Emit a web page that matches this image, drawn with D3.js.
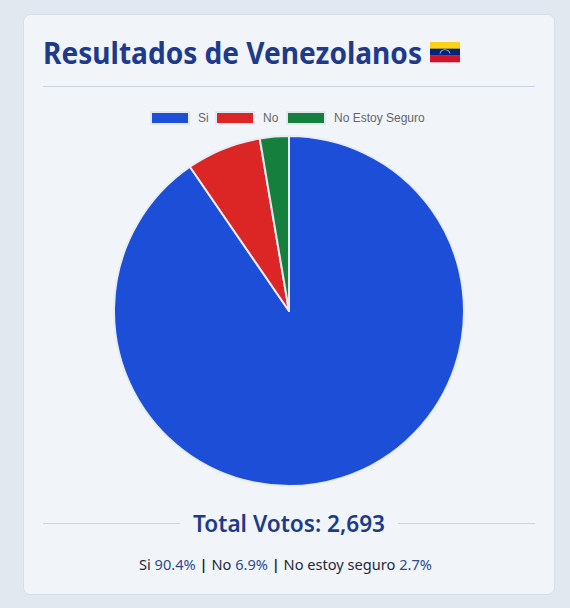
<!DOCTYPE html>
<html>
<head>
<meta charset="utf-8">
<script src="https://cdn.jsdelivr.net/npm/d3@7"></script>
<style>
  html, body { margin: 0; padding: 0; background: #e2e8f0; }
  svg { display: block; }
</style>
</head>
<body>
<svg id="chart"></svg>
<script>
// datos de la encuesta
const labels = ['Si', 'No', 'No Estoy Seguro'];
const summaryLabels = ['Si', 'No', 'No estoy seguro'];
const votes = [2435, 186, 72];
const colors = ['#1d4ed8', '#dc2626', '#15803d'];

const width = 570, height = 608;
const total = d3.sum(votes);

const svg = d3.select('#chart').attr('width', width).attr('height', height);

// tarjeta
svg.append('rect')
  .attr('x', 23.5).attr('y', 14.5).attr('width', 531).attr('height', 580)
  .attr('rx', 7).attr('fill', '#f1f5f9').attr('stroke', '#d5dde8');

// titulo
svg.append('text')
  .attr('x', 43).attr('y', 64)
  .attr('font-family', '"Noto Sans", sans-serif')
  .attr('font-weight', 700).attr('font-size', 31)
  .attr('textLength', 379).attr('lengthAdjust', 'spacingAndGlyphs')
  .attr('fill', '#1e3a8a')
  .text('Resultados de Venezolanos');

// bandera
const fx = 430, fy = 42, fw = 30, fh = 20;
const flag = svg.append('g').attr('transform', `translate(${fx},${fy})`);
['#fcd116', '#00247d', '#cf142b'].forEach((c, i) => {
  flag.append('rect').attr('x', 0).attr('y', i * fh / 3).attr('width', fw).attr('height', fh / 3 + 0.3).attr('fill', c);
});
flag.append('path')
  .attr('d', d3.arc()({ innerRadius: 5, outerRadius: 5.6, startAngle: -Math.PI / 2.4, endAngle: Math.PI / 2.4 }))
  .attr('transform', `translate(${fw / 2},${fh / 2 + 3})`)
  .attr('fill', '#fff');

svg.append('line')
  .attr('x1', 43).attr('x2', 535).attr('y1', 86.5).attr('y2', 86.5)
  .attr('stroke', '#cbd5e1');

// leyenda
const legendX = [151, 216, 287];
const legend = svg.selectAll('g.leg').data(labels).enter().append('g')
  .attr('class', 'leg')
  .attr('transform', (d, i) => `translate(${legendX[i]},112)`);
legend.append('rect')
  .attr('width', 38).attr('height', 12)
  .attr('fill', (d, i) => colors[i])
  .attr('stroke', '#e2e8f0').attr('stroke-width', 2);
legend.append('text')
  .attr('x', 47).attr('y', 10)
  .attr('font-family', 'Arial, "Liberation Sans", sans-serif')
  .attr('font-size', 12).attr('fill', '#666')
  .text(d => d);

// pastel
const cx = 289, cy = 311, radius = 175;
const pie = d3.pie().sort(null).value(d => d);
const arc = d3.arc().innerRadius(0).outerRadius(radius);

svg.append('g')
  .attr('transform', `translate(${cx},${cy})`)
  .selectAll('path')
  .data(pie(votes))
  .enter().append('path')
  .attr('d', arc)
  .attr('fill', (d, i) => colors[i])
  .attr('stroke', '#e8edf4')
  .attr('stroke-width', 2)
  .attr('stroke-linejoin', 'round');

// total
const totalText = svg.append('text')
  .attr('x', cx).attr('y', 532)
  .attr('text-anchor', 'middle')
  .attr('font-family', '"Noto Sans", sans-serif')
  .attr('font-weight', 600).attr('font-size', 23)
  .attr('textLength', 192).attr('lengthAdjust', 'spacingAndGlyphs')
  .attr('fill', '#1e3a8a')
  .text('Total Votos: ' + d3.format(',')(total));

const tw = 192;
svg.append('line').attr('x1', 43).attr('x2', cx - tw / 2 - 13).attr('y1', 523.5).attr('y2', 523.5).attr('stroke', '#cbd5e1');
svg.append('line').attr('x1', cx + tw / 2 + 13).attr('x2', 535).attr('y1', 523.5).attr('y2', 523.5).attr('stroke', '#cbd5e1');

// resumen
const fmt = d3.format('.1f');
const summary = svg.append('text')
  .attr('x', 285.5).attr('y', 570)
  .attr('text-anchor', 'middle')
  .attr('font-family', '"Noto Sans", sans-serif')
  .attr('font-size', 15)
  .attr('textLength', 293).attr('lengthAdjust', 'spacingAndGlyphs')
  .attr('fill', '#1e293b');
summaryLabels.forEach((l, i) => {
  if (i > 0) summary.append('tspan').attr('fill', '#0f172a').attr('font-weight', 600).text(' | ');
  summary.append('tspan').text(l + ' ');
  summary.append('tspan').attr('fill', '#2c4a8f').text(fmt(votes[i] / total * 100) + '%');
});
</script>
</body>
</html>
